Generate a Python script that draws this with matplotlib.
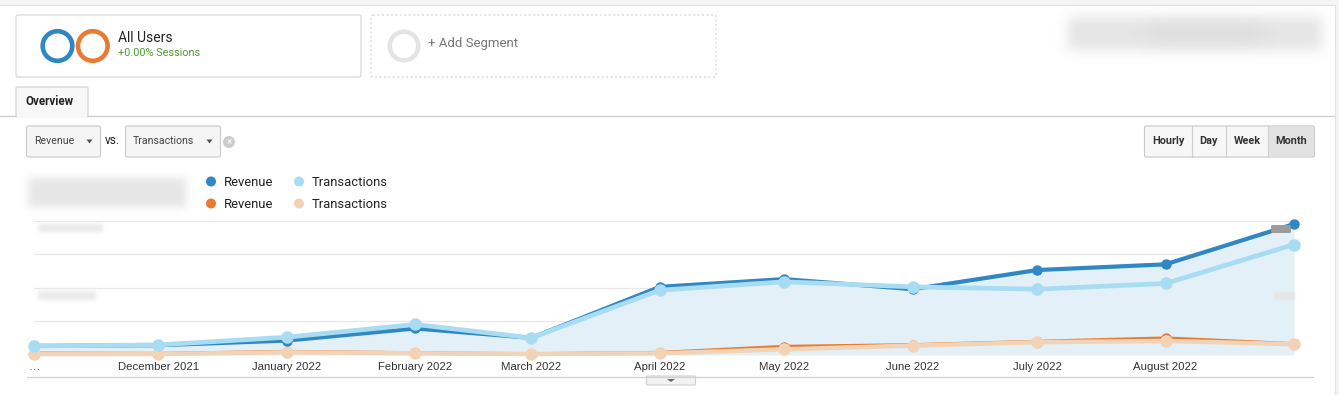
import numpy as np
import matplotlib
matplotlib.use("Agg")
import matplotlib.pyplot as plt
from matplotlib.patches import FancyBboxPatch, Circle, Rectangle, Polygon
from matplotlib.colors import to_rgb

plt.rcParams['font.family'] = ['Roboto', 'DejaVu Sans']

# monthly points, Nov 2021 .. Sep 2022
months = np.array(['2021-11-01', '2021-12-01', '2022-01-01', '2022-02-01', '2022-03-01',
                   '2022-04-01', '2022-05-01', '2022-06-01', '2022-07-01', '2022-08-01',
                   '2022-09-01'], dtype='datetime64[D]')
month_labels = ['\u2026', 'December 2021', 'January 2022', 'February 2022', 'March 2022',
                'April 2022', 'May 2022', 'June 2022', 'July 2022', 'August 2022', '']

# values in gridline units (axis labels are blurred in the source)
revenue_all = [0.27, 0.29, 0.43, 0.79, 0.51, 2.03, 2.26, 1.96, 2.53, 2.70, 3.90]
transactions_all = [0.27, 0.30, 0.53, 0.91, 0.51, 1.93, 2.18, 2.03, 1.96, 2.13, 3.29]
revenue_seg2 = [0.05, 0.04, 0.10, 0.06, 0.03, 0.07, 0.25, 0.30, 0.40, 0.50, 0.33]
transactions_seg2 = [0.03, 0.03, 0.08, 0.05, 0.03, 0.05, 0.17, 0.28, 0.38, 0.42, 0.32]

legend_names = ['Revenue', 'Transactions']
intervals = ['Hourly', 'Day', 'Week', 'Month']

BLUE = '#2f87c3'
LBLUE = '#a8dcf2'
ORANGE = '#e97a33'
PEACH = '#f3d3b6'

W, H = 1339, 395
fig = plt.figure(figsize=(W / 100, H / 100), dpi=100)
fig.patch.set_facecolor('white')


def pixel_axes(z):
    a = fig.add_axes([0, 0, 1, 1], zorder=z)
    a.set_xlim(0, W)
    a.set_ylim(H, 0)
    a.axis('off')
    a.patch.set_alpha(0)
    return a


ui = pixel_axes(0)


def box(x0, y0, x1, y1, fc='white', ec='#d6d6d6', lw=0.8, ls='-', r=2, z=1):
    p = FancyBboxPatch((x0, y0), x1 - x0, y1 - y0, boxstyle=f"round,pad=0,rounding_size={r}",
                       fc=fc, ec=ec, lw=lw, ls=ls, zorder=z)
    ui.add_patch(p)


def blur(a, x0, y0, x1, y1, color='#d0d0d0', sigma=4.0, peak=0.8):
    # soft smudge: box mask smoothed with a gaussian
    m = int(3 * sigma)
    w, h = int(x1 - x0) + 2 * m, int(y1 - y0) + 2 * m
    mask = np.zeros((h, w))
    mask[m:h - m, m:w - m] = 1.0
    k = np.exp(-0.5 * (np.arange(-m, m + 1) / sigma) ** 2)
    k /= k.sum()
    mask = np.apply_along_axis(lambda r: np.convolve(r, k, mode='same'), 1, mask)
    mask = np.apply_along_axis(lambda c: np.convolve(c, k, mode='same'), 0, mask)
    img = np.zeros((h, w, 4))
    img[..., :3] = to_rgb(color)
    img[..., 3] = mask * peak
    a.imshow(img, extent=(x0 - m, x1 + m, y1 + m, y0 - m), origin='upper',
             interpolation='bilinear', zorder=2, aspect='auto')


# page frame
ui.add_patch(Rectangle((0, 0), W, 5, fc='#f5f5f5', ec='none', zorder=0))
ui.plot([0, 1335], [5, 5], color='#e2e2e2', lw=0.8)
ui.plot([1335, 1335], [5, H], color='#e2e2e2', lw=0.8)
ui.add_patch(Rectangle((1335, 0), 4, H, fc='#f5f5f5', ec='none', zorder=0))

# segment boxes
box(16, 15, 361, 77, ec='#d4d4d4')
ui.add_patch(Circle((57.5, 46), 14.8, fill=False, ec=BLUE, lw=3.3, zorder=3))
ui.add_patch(Circle((92.8, 46), 14.8, fill=False, ec=ORANGE, lw=3.3, zorder=3))
ui.text(118, 38, 'All Users', fontsize=10, color='#222222', va='center')
ui.text(118, 53.5, '+0.00% Sessions', fontsize=7.8, color='#4f9a2f', va='center')

box(371, 15, 716, 77, ec='#d4d4d4', ls=(0, (2, 2)))
ui.add_patch(Circle((404, 46), 14.3, fill=False, ec='#e4e4e4', lw=3.2, zorder=3))
ui.text(428, 43.5, '+ Add Segment', fontsize=9.5, color='#777777', va='center')

blur(ui, 1068, 17, 1322, 50, color='#d4d4d4', sigma=6, peak=0.6)
blur(ui, 1150, 22, 1260, 44, color='#cccccc', sigma=8, peak=0.25)

# tab row
ui.plot([0, 1335], [116, 116], color='#cfcfcf', lw=0.9, zorder=1)
box(16, 87, 88, 117, fc='#f8f8f8', ec='#cfcfcf', r=1, z=2)
ui.add_patch(Rectangle((16.6, 115), 70.8, 3, fc='#f8f8f8', ec='none', zorder=3))
ui.text(25, 101.5, 'Overview', fontsize=8.3, fontweight='bold', color='#222222', va='center')

# metric dropdowns
box(26.5, 126, 100.5, 157, fc='#f5f5f5', ec='#c9c9c9')
ui.text(34, 141.5, 'Revenue', fontsize=7.6, color='#444444', va='center')
ui.add_patch(Polygon([[86.5, 139.5], [92.5, 139.5], [89.5, 143.5]], fc='#555555', ec='none', zorder=3))
ui.text(104.5, 140.5, 'vs.', fontsize=8.6, color='#222222', va='center')
box(125.5, 126, 220.5, 157, fc='#f5f5f5', ec='#c9c9c9')
ui.text(133, 141.5, 'Transactions', fontsize=7.6, color='#444444', va='center')
ui.add_patch(Polygon([[206.5, 139.5], [212.5, 139.5], [209.5, 143.5]], fc='#555555', ec='none', zorder=3))
ui.add_patch(Circle((229, 142), 6, fc='#cccccc', ec='none', zorder=3))
ui.text(229, 142.3, '\u00d7', fontsize=7, color='white', ha='center', va='center', zorder=4)

# interval buttons
edges = [1144.5, 1192, 1226, 1268, 1314.5]
box(edges[0], 126, edges[-1], 157, fc='#f7f7f7', ec='#c9c9c9')
ui.add_patch(Rectangle((edges[3], 126.6), edges[4] - edges[3] - 0.6, 29.8, fc='#e2e2e2', ec='none', zorder=2))
for i, name in enumerate(intervals):
    if i > 0:
        ui.plot([edges[i], edges[i]], [126, 157], color='#cfcfcf', lw=0.8, zorder=3)
    ui.text((edges[i] + edges[i + 1]) / 2, 141.5, name, fontsize=7.8, fontweight='bold',
            color='#333333', ha='center', va='center', zorder=4)

# legend
blur(ui, 28, 178, 186, 207, color='#d6d6d6', sigma=4, peak=0.6)
leg = [(211, 181.5, BLUE, legend_names[0]), (299, 181.5, LBLUE, legend_names[1]),
       (211, 203.5, ORANGE, legend_names[0]), (299, 203.5, PEACH, legend_names[1])]
for x, y, c, t in leg:
    ui.add_patch(Circle((x, y), 5, fc=c, ec='none', zorder=3))
    ui.text(x + 13, y + 0.5, t, fontsize=9.4, color='#222222', va='center')

# bottom rule and scroll tab
ui.plot([27, 1313], [377, 377], color='#d0d0d0', lw=0.9)
box(646.5, 376, 695.5, 385, fc='#f3f3f3', ec='#cfcfcf', r=1)
ui.add_patch(Polygon([[667, 379], [675, 379], [671, 382]], fc='#666666', ec='none', zorder=3))

# chart area
x0, x1 = 34, 1294
yb, yt = 355, 220.7
ax = fig.add_axes([x0 / W, (H - yb) / H, (x1 - x0) / W, (yb - yt) / H], zorder=1)
ax.patch.set_alpha(0)
ax.set_xlim(months[0], months[-1])
ax.set_ylim(0, 4)
for s in ax.spines.values():
    s.set_visible(False)
for g in [1, 2, 3, 4]:
    ax.axhline(g, color='#e8e8e8', lw=0.9, zorder=0)
ax.axhline(0, color='#333333', lw=1.1, zorder=1)
ax.set_yticks([])

ax.fill_between(months, revenue_all, 0, color='#e3f0f8', lw=0, zorder=1)
ax.plot(months, revenue_seg2, color=ORANGE, lw=2.6, marker='o', ms=6.5, zorder=3, clip_on=False)
ax.plot(months, transactions_seg2, color=PEACH, lw=3.2, marker='o', ms=8, zorder=4, clip_on=False)
ax.plot(months, revenue_all, color=BLUE, lw=3.0, marker='o', ms=6.5, zorder=5, clip_on=False)
ax.plot(months, transactions_all, color=LBLUE, lw=3.4, marker='o', ms=8, zorder=6, clip_on=False)

ax.set_xticks(months)
ax.set_xticklabels(month_labels)
ax.tick_params(axis='x', length=0, pad=5, labelsize=8.2, labelcolor='#333333')
for lbl in ax.get_xticklabels():
    lbl.set_fontfamily(['Liberation Sans', 'DejaVu Sans'])

# blurred axis value labels, drawn above the series
top = pixel_axes(2)
blur(top, 38, 224, 103, 232, color='#e2e2e2', sigma=2, peak=0.7)
blur(top, 38, 291, 96, 300, color='#e2e2e2', sigma=2, peak=0.7)
top.add_patch(FancyBboxPatch((1271, 225), 20, 8, boxstyle="round,pad=0,rounding_size=1.5",
                             fc='#9c9c9c', ec='none', zorder=3))
blur(top, 1274, 292, 1295, 300, color='#e4e4e4', sigma=1.5, peak=0.9)

fig.savefig('out.png', dpi=100)
